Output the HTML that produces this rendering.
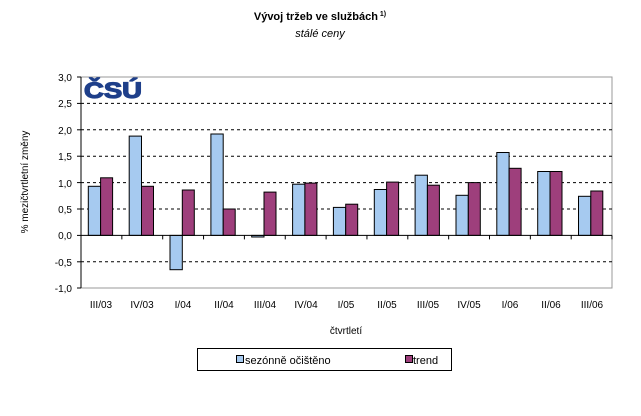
<!DOCTYPE html><html><head><meta charset="utf-8"><style>body{margin:0;background:#fff}</style></head><body>
<svg width="641" height="411" xmlns="http://www.w3.org/2000/svg" font-family="Liberation Sans, Arial, sans-serif">
<text x="320" y="20" font-size="11" font-weight="bold" text-anchor="middle">Vývoj tržeb ve službách<tspan font-size="7" dy="-4"> 1)</tspan></text>
<text x="320" y="37" font-size="11" font-style="italic" text-anchor="middle">stálé ceny</text>
<rect x="81" y="77" width="531" height="211" fill="#fff" stroke="#999" stroke-width="1"/>
<g stroke="#000" stroke-dasharray="3,3" stroke-width="1">
<line x1="81" x2="612" y1="103.4" y2="103.4"/><line x1="81" x2="612" y1="129.8" y2="129.8"/><line x1="81" x2="612" y1="156.2" y2="156.2"/><line x1="81" x2="612" y1="182.6" y2="182.6"/><line x1="81" x2="612" y1="209" y2="209"/><line x1="81" x2="612" y1="261.8" y2="261.8"/></g>
<text x="84" y="98" font-size="22" font-weight="bold" fill="#1e3f8a" stroke="#1e3f8a" stroke-width="1.2" textLength="58" lengthAdjust="spacingAndGlyphs">ČSÚ</text>
<g stroke="#000" stroke-width="1" fill="#a6caf0">
<rect x="88.3" y="186.3" width="12.3" height="49.1"/><rect x="129.2" y="136.1" width="12.3" height="99.3"/><rect x="170" y="235.4" width="12.3" height="34.3"/><rect x="210.9" y="134" width="12.3" height="101.4"/><rect x="251.7" y="235.4" width="12.3" height="1.6"/><rect x="292.6" y="184.2" width="12.3" height="51.2"/><rect x="333.4" y="207.4" width="12.3" height="28"/><rect x="374.3" y="189.5" width="12.3" height="45.9"/><rect x="415.1" y="175.2" width="12.3" height="60.2"/><rect x="456" y="195.3" width="12.3" height="40.1"/><rect x="496.8" y="152.5" width="12.3" height="82.9"/><rect x="537.7" y="171.5" width="12.3" height="63.9"/><rect x="578.5" y="196.3" width="12.3" height="39.1"/></g>
<g stroke="#000" stroke-width="1" fill="#9e3f7c">
<rect x="100.6" y="177.8" width="12" height="57.6"/><rect x="141.5" y="186.3" width="12" height="49.1"/><rect x="182.3" y="190" width="12" height="45.4"/><rect x="223.2" y="209" width="12" height="26.4"/><rect x="264" y="192.1" width="12" height="43.3"/><rect x="304.9" y="183.1" width="12" height="52.3"/><rect x="345.7" y="204.2" width="12" height="31.2"/><rect x="386.6" y="182.1" width="12" height="53.3"/><rect x="427.4" y="185.2" width="12" height="50.2"/><rect x="468.3" y="182.6" width="12" height="52.8"/><rect x="509.1" y="168.3" width="12" height="67.1"/><rect x="550" y="171.5" width="12" height="63.9"/><rect x="590.8" y="191" width="12" height="44.4"/></g>
<line x1="81" x2="612" y1="235.4" y2="235.4" stroke="#000"/>
<line x1="81" x2="81" y1="77" y2="288" stroke="#000"/>
<g stroke="#000"><line x1="77" x2="81" y1="77" y2="77"/><line x1="77" x2="81" y1="103.4" y2="103.4"/><line x1="77" x2="81" y1="129.8" y2="129.8"/><line x1="77" x2="81" y1="156.2" y2="156.2"/><line x1="77" x2="81" y1="182.6" y2="182.6"/><line x1="77" x2="81" y1="209" y2="209"/><line x1="77" x2="81" y1="235.4" y2="235.4"/><line x1="77" x2="81" y1="261.8" y2="261.8"/><line x1="77" x2="81" y1="288" y2="288"/>
<line x1="121.85" x2="121.85" y1="235.4" y2="239.4"/><line x1="162.7" x2="162.7" y1="235.4" y2="239.4"/><line x1="203.55" x2="203.55" y1="235.4" y2="239.4"/><line x1="244.4" x2="244.4" y1="235.4" y2="239.4"/><line x1="285.25" x2="285.25" y1="235.4" y2="239.4"/><line x1="326.1" x2="326.1" y1="235.4" y2="239.4"/><line x1="366.95" x2="366.95" y1="235.4" y2="239.4"/><line x1="407.8" x2="407.8" y1="235.4" y2="239.4"/><line x1="448.65" x2="448.65" y1="235.4" y2="239.4"/><line x1="489.5" x2="489.5" y1="235.4" y2="239.4"/><line x1="530.35" x2="530.35" y1="235.4" y2="239.4"/><line x1="571.2" x2="571.2" y1="235.4" y2="239.4"/><line x1="612" x2="612" y1="235.4" y2="239.4"/></g>
<g font-size="10" text-anchor="end">
<text x="72" y="81">3,0</text><text x="72" y="107">2,5</text><text x="72" y="134">2,0</text><text x="72" y="160">1,5</text><text x="72" y="187">1,0</text><text x="72" y="213">0,5</text><text x="72" y="239">0,0</text><text x="72" y="266">-0,5</text><text x="72" y="292">-1,0</text></g>
<g font-size="10" text-anchor="middle">
<text x="101" y="308">III/03</text><text x="142" y="308">IV/03</text><text x="183" y="308">I/04</text><text x="224" y="308">II/04</text><text x="265" y="308">III/04</text><text x="306" y="308">IV/04</text><text x="346" y="308">I/05</text><text x="387" y="308">II/05</text><text x="428" y="308">III/05</text><text x="469" y="308">IV/05</text><text x="510" y="308">I/06</text><text x="551" y="308">II/06</text><text x="592" y="308">III/06</text></g>
<text x="346" y="334" font-size="10" text-anchor="middle">čtvrtletí</text>
<text transform="translate(28,182) rotate(-90)" font-size="10" text-anchor="middle">% mezičtvrtletní změny</text>
<rect x="197.5" y="348.5" width="254" height="22" fill="#fff" stroke="#000"/>
<rect x="236.5" y="355.5" width="7" height="7" fill="#a6caf0" stroke="#000"/>
<text x="245" y="364" font-size="11">sezónně očištěno</text>
<rect x="405.5" y="355.5" width="7" height="7" fill="#9e3f7c" stroke="#000"/>
<text x="413" y="364" font-size="11">trend</text>
</svg></body></html>
